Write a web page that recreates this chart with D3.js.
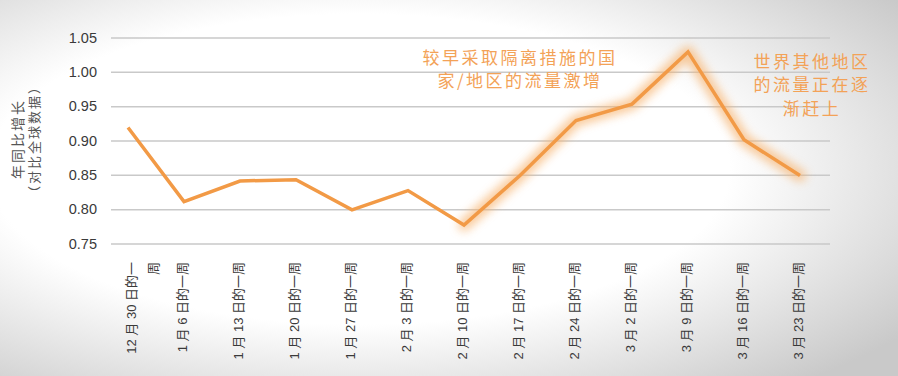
<!DOCTYPE html>
<html>
<head>
<meta charset="utf-8">
<script src="https://cdn.jsdelivr.net/npm/d3@7"></script>
<style>
  body { margin: 0; padding: 0; }
  svg { display: block; font-family: "Liberation Sans", "Noto Sans CJK SC", sans-serif; }
</style>
</head>
<body>
<svg id="chart"></svg>
<script>
const width = 898, height = 376;

// Data
const weeks = [
    ["12 月 30 日的一", "周"],
    ["1 月 6 日的一周"],
    ["1 月 13 日的一周"],
    ["1 月 20 日的一周"],
    ["1 月 27 日的一周"],
    ["2 月 3 日的一周"],
    ["2 月 10 日的一周"],
    ["2 月 17 日的一周"],
    ["2 月 24 日的一周"],
    ["3 月 2 日的一周"],
    ["3 月 9 日的一周"],
    ["3 月 16 日的一周"],
    ["3 月 23 日的一周"]
];
const growth = [0.919, 0.811, 0.841, 0.843, 0.799, 0.827, 0.777, 0.849, 0.929, 0.953, 1.029, 0.901, 0.849];
const yTicks = [0.75, 0.80, 0.85, 0.90, 0.95, 1.00, 1.05];
const yLabel = ["年同比增长", "（对比全球数据）"];
const noteLeft = ["较早采取隔离措施的国", "家/地区的流量激增"];
const noteRight = ["世界其他地区", "的流量正在逐", "渐赶上"];

const orange = "#F29A46";
const noteColor = "#F3A257";

const svg = d3.select("#chart")
    .attr("width", width)
    .attr("height", height);

// Background: soft radial gradient, white centre to grey edges
const defs = svg.append("defs");
const bg = defs.append("radialGradient")
    .attr("id", "bg")
    .attr("cx", "40%").attr("cy", "45%").attr("r", "75%");
bg.append("stop").attr("offset", "0%").attr("stop-color", "#ffffff");
bg.append("stop").attr("offset", "55%").attr("stop-color", "#ffffff");
bg.append("stop").attr("offset", "100%").attr("stop-color", "#c9c9c9");

const glow = defs.append("filter")
    .attr("id", "glow")
    .attr("x", "-20%").attr("y", "-20%").attr("width", "140%").attr("height", "140%");
glow.append("feGaussianBlur").attr("stdDeviation", 5);

svg.append("rect")
    .attr("width", width).attr("height", height)
    .attr("fill", "url(#bg)");

// Scales
const x = d3.scalePoint()
    .domain(d3.range(weeks.length))
    .range([128, 800]);

const y = d3.scaleLinear()
    .domain([0.75, 1.05])
    .range([243.5, 37.5]);

// Gridlines + y tick labels
const yAxis = d3.axisLeft(y)
    .tickValues(yTicks)
    .tickSize(-(830 - 111))
    .tickPadding(14)
    .tickFormat(d3.format(".2f"));

const gy = svg.append("g")
    .attr("transform", "translate(111,0)")
    .call(yAxis);
gy.select(".domain").remove();
gy.selectAll(".tick line")
    .attr("stroke", "#c9c9c9")
    .attr("stroke-width", 1.5);
gy.selectAll(".tick text")
    .attr("fill", "#3a3a3a")
    .style("font-family", "Liberation Sans, Arial, sans-serif")
    .style("font-size", "14.5px");

// Y axis title (rotated, two lines)
svg.append("g")
    .selectAll("text")
    .data(yLabel)
    .enter().append("text")
    .attr("transform", (d, i) => `translate(${19 + i * 16},139) rotate(-90)`)
    .attr("text-anchor", "middle")
    .attr("dominant-baseline", "middle")
    .attr("fill", "#555")
    .style("font-family", "Noto Sans CJK SC")
    .style("font-size", (d, i) => i === 0 ? "14px" : "13px")
    .style("letter-spacing", "2px")
    .text(d => d);

// X labels (rotated, end anchored at top)
const xl = svg.append("g")
    .selectAll("g")
    .data(weeks)
    .enter().append("g");

xl.selectAll("text")
    .data((d, i) => d.map((s, j) => ({ s, j, i, n: d.length })))
    .enter().append("text")
    .attr("transform", d => {
        const cx = d.n > 1 ? x(d.i) + 5 + d.j * 22 : x(d.i);
        return `translate(${cx},262) rotate(-90)`;
    })
    .attr("text-anchor", "end")
    .attr("dominant-baseline", "middle")
    .attr("fill", "#3a3a3a")
    .style("font-size", "13px")
    .text(d => d.s);

// Line
const line = d3.line()
    .x((d, i) => x(i))
    .y(d => y(d));

const glowPts = growth.map((d, i) => [i, d]).filter(p => p[0] >= 6);
svg.append("path")
    .datum(glowPts)
    .attr("d", d3.line().x(p => x(p[0])).y(p => y(p[1])))
    .attr("fill", "none")
    .attr("stroke", "#F7B36E")
    .attr("stroke-width", 12)
    .attr("stroke-linejoin", "round")
    .attr("stroke-linecap", "round")
    .attr("opacity", 0.7)
    .attr("filter", "url(#glow)");

svg.append("path")
    .datum(growth)
    .attr("d", line)
    .attr("fill", "none")
    .attr("stroke", orange)
    .attr("stroke-width", 3.5)
    .attr("stroke-linejoin", "miter");

// Annotations
function note(lines, cx, y0, lh) {
    svg.append("g")
        .selectAll("text")
        .data(lines)
        .enter().append("text")
        .attr("x", cx)
        .attr("y", (d, i) => y0 + i * lh)
        .attr("text-anchor", "middle")
        .attr("dominant-baseline", "middle")
        .attr("fill", noteColor)
        .style("font-family", "Noto Sans CJK SC")
        .style("font-size", "17px")
        .style("letter-spacing", "2.5px")
        .text(d => d);
}
note(noteLeft, 520, 59, 23.5);
note(noteRight, 812, 63, 23.5);
</script>
</body>
</html>
